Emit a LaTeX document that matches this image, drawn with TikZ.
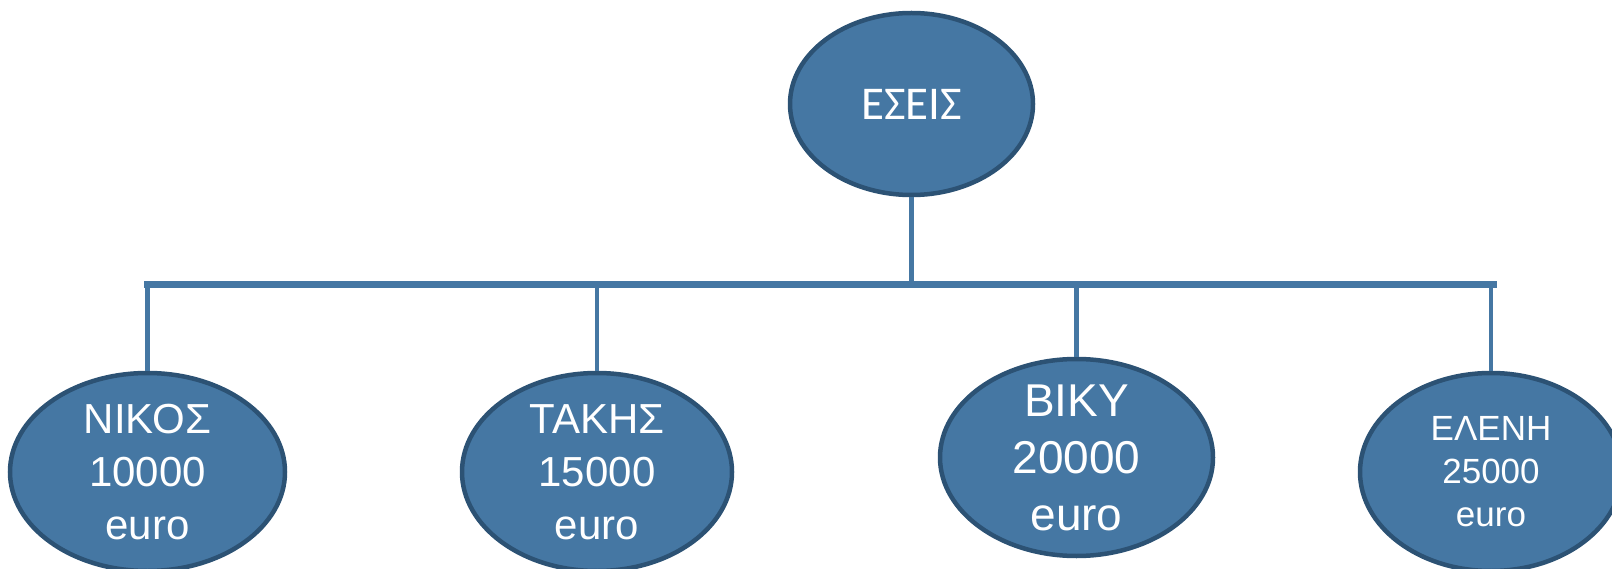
\documentclass[tikz,border=0pt]{standalone}
\usepackage{fontspec}
\setmainfont{Liberation Sans}
\newfontfamily\calib{Carlito}
\usetikzlibrary{shapes.geometric}
\definecolor{ellfill}{HTML}{4577A3}
\definecolor{ellborder}{HTML}{2C5274}
\definecolor{linkcol}{HTML}{4577A3}
\tikzset{
  person/.style={ellipse, draw=ellborder, fill=ellfill, line width=4.5pt, inner sep=0pt},
  ptext/.style={text=white, align=center},
  link/.style={draw=linkcol, line width=4.5pt},
  bus/.style={draw=linkcol, line width=7pt}
}
\begin{document}
\begin{tikzpicture}[x=1pt,y=-1pt]
\useasboundingbox (0,0) rectangle (1612,569);
\node[person, minimum width=243pt, minimum height=182pt,
  label={[ptext, font=\calib\fontsize{47}{52}\selectfont]center:ΕΣΕΙΣ}] (top) at (911.5,104) {};
\node[person, minimum width=275pt, minimum height=198pt,
  label={[ptext, font=\fontsize{42}{53}\selectfont]center:ΝΙΚΟΣ\\10000\\euro}] (nikos) at (147.5,472) {};
\node[person, minimum width=270pt, minimum height=198pt,
  label={[ptext, font=\fontsize{42}{53}\selectfont]center:ΤΑΚΗΣ\\15000\\euro}] (takis) at (597,472) {};
\node[person, minimum width=273pt, minimum height=197pt,
  label={[ptext, font=\fontsize{46}{57}\selectfont]center:ΒΙΚΥ\\20000\\euro}] (biky) at (1076.5,457.5) {};
\node[person, minimum width=262pt, minimum height=198pt,
  label={[ptext, font=\fontsize{35}{43}\selectfont]center:ΕΛΕΝΗ\\25000\\euro}] (eleni) at (1491,472) {};
\coordinate (busL) at (144,285);
\coordinate (busR) at (1497,285);
\draw[bus] (busL) -- (busR);
\draw[link] (top.south) -- (top.south |- busL);
\draw[link] (nikos.north |- busL) -- (nikos.north);
\draw[link] (takis.north |- busL) -- (takis.north);
\draw[link] (biky.north |- busL) -- (biky.north);
\draw[link] (eleni.north |- busL) -- (eleni.north);
\end{tikzpicture}
\end{document}
